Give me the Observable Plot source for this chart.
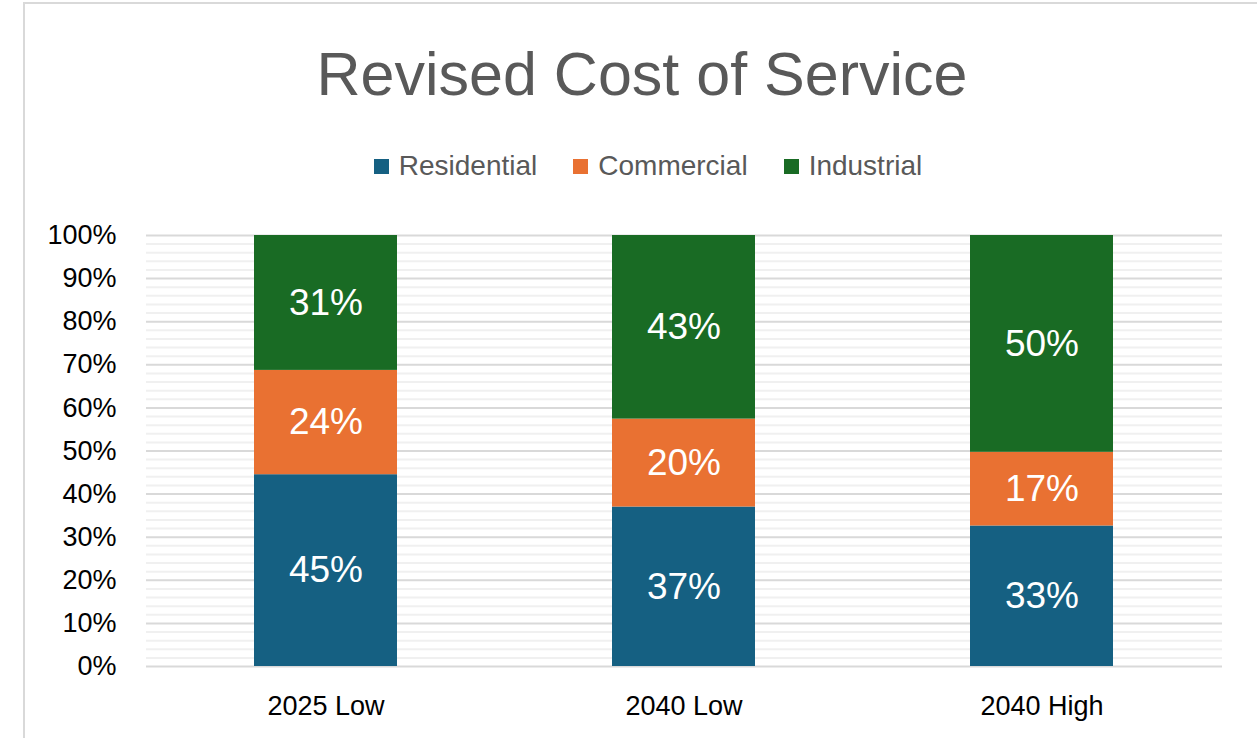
<!DOCTYPE html>
<html>
<head>
<meta charset="utf-8">
<script src="https://cdn.jsdelivr.net/npm/d3@7"></script>
<script src="https://cdn.jsdelivr.net/npm/@observablehq/plot@0.6"></script>
<style>
  html, body { margin: 0; padding: 0; background: #fff; overflow: hidden; }
  body { width: 1257px; height: 738px; position: relative; font-family: "Liberation Sans", Arial, sans-serif; }
  #frame { position: absolute; left: 23px; top: 2px; width: 2000px; height: 2000px; border: 2px solid #d9d9d9; box-sizing: border-box; }
  #title { position: absolute; left: 0; top: 44px; width: 1284px; text-align: center; font-size: 61px; line-height: 61px; color: #595959; }
  #legend { position: absolute; left: 0; top: 152px; width: 1296px; display: flex; justify-content: center; align-items: center; font-size: 28px; line-height: 28px; color: #595959; }
  .item { display: flex; align-items: center; margin: 0 18px; }
  .sw { width: 15px; height: 15px; margin-right: 10px; }
  #chart { position: absolute; left: 0; top: 0; }
</style>
</head>
<body>
<div id="frame"></div>
<div id="chart"></div>
<div id="title">Revised Cost of Service</div>
<div id="legend"></div>
<script>
const scenarios = ["2025 Low", "2040 Low", "2040 High"];
const sectors = ["Residential", "Commercial", "Industrial"];
const colors = ["#156082", "#E97132", "#196B24"];
const residential = [44.5, 37.0, 32.6];
const commercial = [24.2, 20.4, 17.1];
const industrial = [31.3, 42.6, 50.3];
const yTicks = [0, 10, 20, 30, 40, 50, 60, 70, 80, 90, 100];
const minorTicks = [2,4,6,8,12,14,16,18,22,24,26,28,32,34,36,38,42,44,46,48,52,54,56,58,62,64,66,68,72,74,76,78,82,84,86,88,92,94,96,98];

const series = [residential, commercial, industrial];
const data = [];
sectors.forEach((s, i) => scenarios.forEach((c, j) => data.push({scenario: c, sector: s, value: series[i][j]})));

const legend = document.getElementById("legend");
sectors.forEach((s, i) => {
  const it = document.createElement("div");
  it.className = "item";
  it.innerHTML = `<div class="sw" style="background:${colors[i]}"></div><span>${s}</span>`;
  legend.appendChild(it);
});

const chart = Plot.plot({
  width: 1257,
  height: 738,
  marginLeft: 146,
  marginRight: 35,
  marginTop: 235,
  marginBottom: 72,
  style: {fontFamily: "Liberation Sans, Arial, sans-serif", background: "transparent", overflow: "visible"},
  x: {domain: scenarios, paddingInner: 0.6, paddingOuter: 0.3, label: null},
  y: {domain: [0, 100], label: null},
  color: {domain: sectors, range: colors},
  marks: [
    Plot.ruleY(minorTicks, {stroke: "#f0f0f0", strokeWidth: 2}),
    Plot.ruleY(yTicks, {stroke: "#d9d9d9", strokeWidth: 2}),
    Plot.barY(data, Plot.stackY({x: "scenario", y: "value", fill: "sector", z: "sector"})),
    Plot.text(data, Plot.stackY({x: "scenario", y: "value", z: "sector", text: d => Math.round(d.value) + "%", fill: "white", fontSize: 37})),
    Plot.axisX({tickSize: 0, tickPadding: 29, fontSize: 27, fill: "#000", label: null}),
    Plot.axisY({ticks: yTicks, tickFormat: d => d + "%", tickSize: 0, tickPadding: 30, fontSize: 27, fill: "#000", label: null})
  ]
});
document.getElementById("chart").appendChild(chart);
</script>
</body>
</html>
